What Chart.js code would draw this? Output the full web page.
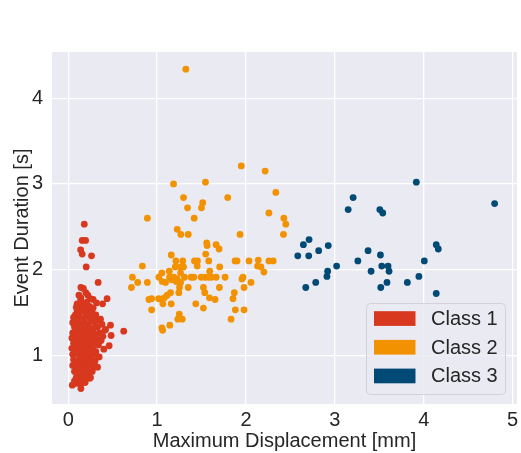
<!DOCTYPE html>
<html>
<head>
<meta charset="utf-8">
<script src="https://cdn.jsdelivr.net/npm/chart.js@4.4.1/dist/chart.umd.min.js"></script>
<style>
  html, body { margin: 0; padding: 0; background: #fff; }
</style>
</head>
<body>
<canvas id="chart" width="521" height="453"></canvas>
<script>
// data: [displacement mm, duration s]
const class1 = [
  [0.180, 2.53], [0.157, 2.34], [0.195, 2.34], [0.139, 2.23], [0.157, 2.18], [0.262, 2.16],
  [0.202, 2.03], [0.336, 1.85], [0.142, 1.79], [0.198, 1.73], [0.142, 1.67], [0.280, 1.65],
  [0.437, 1.66], [0.386, 1.60], [0.318, 1.61], [0.157, 1.60], [0.206, 1.54], [0.112, 1.53],
  [0.094, 1.48], [0.363, 1.42], [0.475, 1.35], [0.624, 1.28], [0.411, 1.29], [0.482, 1.23],
  [0.460, 1.11], [0.348, 0.98], [0.330, 0.86], [0.243, 0.73], [0.045, 0.65], [0.086, 0.67],
  [0.142, 0.61], [0.157, 0.68],
  [0.10, 1.52], [0.14, 1.55], [0.19, 1.50], [0.23, 1.53], [0.27, 1.49], [0.08, 1.47], [0.31, 1.47],
  [0.06, 1.44], [0.12, 1.45], [0.17, 1.43], [0.21, 1.46], [0.25, 1.42], [0.29, 1.44], [0.34, 1.41],
  [0.05, 1.38], [0.09, 1.40], [0.13, 1.37], [0.18, 1.39], [0.22, 1.36], [0.26, 1.40], [0.30, 1.37], [0.38, 1.36],
  [0.07, 1.33], [0.11, 1.31], [0.15, 1.34], [0.19, 1.30], [0.24, 1.32], [0.28, 1.30], [0.33, 1.33], [0.42, 1.30],
  [0.05, 1.26], [0.09, 1.28], [0.13, 1.25], [0.17, 1.27], [0.21, 1.24], [0.25, 1.27], [0.29, 1.25], [0.35, 1.26], [0.39, 1.22],
  [0.04, 1.20], [0.08, 1.21], [0.12, 1.19], [0.16, 1.22], [0.20, 1.18], [0.24, 1.21], [0.28, 1.19], [0.32, 1.20], [0.37, 1.17],
  [0.06, 1.14], [0.10, 1.15], [0.14, 1.12], [0.18, 1.15], [0.22, 1.13], [0.26, 1.11], [0.30, 1.14], [0.34, 1.12],
  [0.04, 1.08], [0.08, 1.07], [0.12, 1.09], [0.16, 1.06], [0.20, 1.08], [0.24, 1.05], [0.28, 1.07], [0.31, 1.04], [0.40, 1.07],
  [0.05, 1.01], [0.09, 1.02], [0.13, 0.99], [0.17, 1.01], [0.21, 0.98], [0.25, 1.00], [0.29, 1.02], [0.33, 0.98],
  [0.06, 0.95], [0.10, 0.93], [0.14, 0.96], [0.18, 0.94], [0.22, 0.92], [0.26, 0.95], [0.30, 0.93],
  [0.05, 0.88], [0.09, 0.86], [0.13, 0.89], [0.17, 0.87], [0.21, 0.85], [0.25, 0.88], [0.29, 0.86],
  [0.07, 0.81], [0.11, 0.79], [0.15, 0.82], [0.19, 0.80], [0.23, 0.78], [0.27, 0.81],
  [0.09, 0.74], [0.13, 0.72], [0.17, 0.75], [0.21, 0.73], [0.07, 0.70], [0.19, 0.68], [0.14, 0.66],
  [0.11, 1.24], [0.15, 1.17], [0.19, 1.11], [0.23, 1.04], [0.11, 1.04], [0.15, 0.91], [0.19, 0.97],
  [0.23, 1.16], [0.27, 1.23], [0.07, 1.17], [0.13, 1.50], [0.17, 1.58], [0.10, 1.60], [0.21, 1.62],
  [0.14, 1.65], [0.24, 1.57], [0.12, 1.70], [0.22, 1.70], [0.17, 1.78], [0.25, 1.66], [0.09, 1.56],
  [0.28, 1.55], [0.30, 0.87], [0.25, 0.74]
];

const class2 = [
  [1.323, 4.34], [1.947, 3.21], [2.216, 3.15], [1.185, 3.00], [1.544, 3.02], [2.336, 2.90],
  [1.297, 2.84], [1.794, 2.84], [1.342, 2.72], [1.513, 2.78], [1.499, 2.72], [1.417, 2.60],
  [0.890, 2.60], [2.258, 2.66], [2.426, 2.60], [2.448, 2.53], [2.422, 2.41], [1.226, 2.47],
  [1.267, 2.41], [1.350, 2.41], [1.933, 2.41], [1.558, 2.31], [1.563, 2.28], [1.664, 2.29],
  [1.697, 2.24], [1.547, 2.18], [1.159, 2.17], [1.211, 2.10], [1.289, 2.10], [1.420, 2.10],
  [1.454, 2.10], [1.581, 2.10], [1.877, 2.10], [1.899, 2.10], [2.034, 2.10], [2.138, 2.11],
  [2.258, 2.10], [2.306, 2.10], [0.834, 2.04], [1.204, 2.03], [1.264, 2.03], [1.297, 2.03],
  [1.451, 2.04], [1.704, 2.03], [2.130, 2.04], [2.168, 2.03], [1.054, 1.96], [1.137, 1.98],
  [1.264, 1.96], [1.592, 1.98], [2.202, 1.97], [0.722, 1.91], [1.020, 1.91], [1.140, 1.91],
  [1.188, 1.91], [1.226, 1.89], [1.308, 1.91], [1.383, 1.91], [1.413, 1.91], [1.496, 1.91],
  [1.540, 1.91], [1.577, 1.91], [1.611, 1.91], [1.664, 1.91], [1.765, 1.91], [1.966, 1.91],
  [1.955, 1.89], [0.781, 1.85], [0.890, 1.85], [1.058, 1.86], [1.095, 1.85], [1.163, 1.88],
  [1.215, 1.86], [1.264, 1.85], [2.056, 1.85], [0.711, 1.79], [1.252, 1.79], [1.350, 1.79],
  [1.521, 1.79], [1.701, 1.79], [1.978, 1.79], [1.151, 1.73], [1.244, 1.73], [1.536, 1.73],
  [1.869, 1.73], [1.114, 1.70], [1.081, 1.67], [0.938, 1.66], [0.908, 1.65], [1.017, 1.66],
  [1.050, 1.65], [1.589, 1.67], [1.652, 1.65], [1.854, 1.66], [1.065, 1.60], [1.159, 1.60],
  [1.435, 1.60], [0.938, 1.53], [1.521, 1.55], [1.880, 1.53], [1.978, 1.53], [1.249, 1.48],
  [1.233, 1.42], [1.283, 1.42], [1.832, 1.42], [1.143, 1.35], [1.054, 1.32], [1.062, 1.29]
];

const class3 = [
  [3.917, 3.02], [4.798, 2.77], [3.206, 2.84], [3.150, 2.70], [3.506, 2.70], [3.539, 2.66],
  [2.710, 2.35], [2.646, 2.29], [2.926, 2.28], [2.818, 2.22], [2.583, 2.16], [2.706, 2.16],
  [3.374, 2.22], [3.513, 2.17], [4.141, 2.29], [4.164, 2.24], [4.007, 2.10], [3.259, 2.10],
  [3.020, 2.04], [3.528, 2.04], [3.599, 2.04], [2.919, 1.98], [3.408, 1.98], [3.610, 1.98],
  [2.911, 1.92], [2.785, 1.85], [2.673, 1.79], [3.517, 1.79], [3.587, 1.85], [3.816, 1.85],
  [3.946, 1.92], [4.141, 1.72]
];

const classLabels = ['Class 1', 'Class 2', 'Class 3'];
const classColors = ['#d7381e', '#f39200', '#004a75'];
const xTicks = [0, 1, 2, 3, 4, 5];
const yTicks = [1, 2, 3, 4];

const textColor = '#262626';
const fontFamily = '"Liberation Sans", Arial, sans-serif';

const toPoints = (rows) => rows.map(([x, y]) => ({ x, y }));

// grey seaborn-style plot background
const plotBackground = {
  id: 'plotBackground',
  beforeDraw(chart) {
    const { ctx, chartArea: a } = chart;
    ctx.save();
    ctx.fillStyle = '#eaeaf2';
    ctx.fillRect(a.left, a.top, a.right - a.left, a.bottom - a.top);
    ctx.restore();
  }
};

// legend box in the lower right corner of the plot
const cornerLegend = {
  id: 'cornerLegend',
  afterDatasetsDraw(chart) {
    const { ctx, chartArea: a } = chart;
    const w = 139;
    const h = 91;
    const x = a.right - 12 - w;
    const y = a.bottom - 10 - h;
    ctx.save();
    ctx.beginPath();
    ctx.roundRect(x + 0.5, y + 0.5, w, h, 4);
    ctx.fillStyle = 'rgba(234,234,242,0.8)';
    ctx.fill();
    ctx.strokeStyle = '#d2d2d8';
    ctx.lineWidth = 1;
    ctx.stroke();
    ctx.font = '20px ' + fontFamily;
    ctx.textBaseline = 'middle';
    chart.data.datasets.forEach((ds, i) => {
      const cy = y + 15.5 + i * 28.7;
      ctx.fillStyle = ds.backgroundColor;
      ctx.fillRect(x + 8, cy - 7.3, 41.5, 14.7);
      ctx.fillStyle = textColor;
      ctx.fillText(ds.label, x + 65, cy + 1);
    });
    ctx.restore();
  }
};

new Chart(document.getElementById('chart'), {
  type: 'scatter',
  data: {
    datasets: [class1, class2, class3].map((rows, i) => ({
      label: classLabels[i],
      data: toPoints(rows),
      backgroundColor: classColors[i],
      borderWidth: 0,
      pointRadius: 3.4,
      order: 3 - i
    }))
  },
  options: {
    responsive: false,
    animation: false,
    layout: {
      padding: { top: 52, right: 2, left: 0, bottom: 0 }
    },
    plugins: {
      legend: { display: false },
      tooltip: { enabled: false }
    },
    scales: {
      x: {
        type: 'linear',
        min: -0.183,
        max: 5.05,
        afterBuildTicks: (axis) => { axis.ticks = xTicks.map((v) => ({ value: v })); },
        afterFit: (axis) => {
          axis.height = 49;
          axis.paddingLeft = 0;
          axis.paddingRight = 0;
        },
        border: { display: false },
        grid: { color: '#ffffff', lineWidth: 1.3, drawTicks: false },
        ticks: {
          padding: 4,
          color: textColor,
          font: { family: fontFamily, size: 20 },
          callback: (v) => String(v)
        },
        title: {
          display: true,
          text: 'Maximum Displacement [mm]',
          color: textColor,
          font: { family: fontFamily, size: 20 },
          padding: { top: 0, bottom: 0 }
        }
      },
      y: {
        type: 'linear',
        min: 0.43,
        max: 4.54,
        afterBuildTicks: (axis) => { axis.ticks = yTicks.map((v) => ({ value: v })); },
        afterFit: (axis) => {
          axis.width = 52;
          axis.paddingTop = 0;
          axis.paddingBottom = 0;
        },
        border: { display: false },
        grid: { color: '#ffffff', lineWidth: 1.3, drawTicks: false },
        ticks: {
          padding: 9,
          color: textColor,
          font: { family: fontFamily, size: 20 },
          callback: (v) => String(v)
        },
        title: {
          display: true,
          text: 'Event Duration [s]',
          color: textColor,
          font: { family: fontFamily, size: 20 },
          padding: { top: 10, bottom: 0 }
        }
      }
    }
  },
  plugins: [plotBackground, cornerLegend]
});
</script>
</body>
</html>
